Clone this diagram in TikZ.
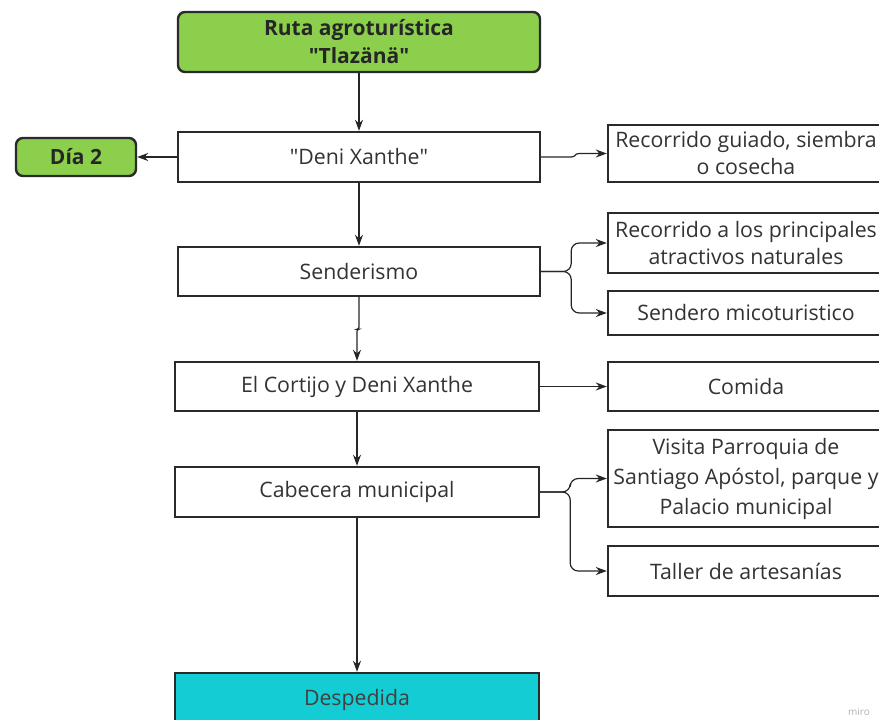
\documentclass[tikz,border=0pt]{standalone}
\usepackage{fontspec}
\setmainfont{Open Sans}
\newfontfamily\qfont{Open Sans}
\usetikzlibrary{arrows.meta}
\definecolor{bordc}{HTML}{2A2A2A}
\definecolor{txtc}{HTML}{333333}
\definecolor{greenc}{HTML}{8CCF4D}
\definecolor{cyanc}{HTML}{14CCD3}
\newcommand{\dq}{{\qfont"}}
\begin{document}
\begin{tikzpicture}[x=1pt,y=-1pt,
  boxbase/.style={draw=bordc,line width=2.4pt,fill=white,inner sep=1pt,align=center,
    text=txtc,font=\fontsize{21.3}{27}\selectfont},
  mainbox/.style={boxbase,minimum width=362pt,minimum height=#1},
  sidebox/.style={boxbase,minimum width=276pt,minimum height=#1},
  greenbox/.style={boxbase,fill=greenc,rounded corners=7pt,text=black!85,font=\fontsize{21}{28}\selectfont\bfseries},
  conn/.style={draw=black!85,line width=1.2pt,-{Stealth[length=11pt,width=8pt]}},
  br/.style={conn,rounded corners=8pt}]
\useasboundingbox (0,0) rectangle (879,720);
\clip (0,0) rectangle (879,720);
% nodes
\node[greenbox,minimum width=362pt,minimum height=60pt] (title) at (359,42) {Ruta agroturística\\\dq Tlazänä\dq};
\node[greenbox,minimum width=120pt,minimum height=38pt] (dia) at (76,157) {Día 2};
\node[mainbox=50pt] (deni) at (359,157) {\dq Deni Xanthe\dq};
\node[sidebox=57pt] (rec1) at (746,153.5) {Recorrido guiado, siembra\\o cosecha};
\node[mainbox=49pt] (sen) at (359,271.5) {Senderismo};
\node[sidebox=60pt] (rec2) at (746,243) {Recorrido a los principales\\atractivos naturales};
\node[sidebox=44pt] (mico) at (746,313) {Sendero micoturistico};
\node[mainbox=49pt,minimum width=364pt] (cor) at (357,386.5) {El Cortijo y Deni Xanthe};
\node[sidebox=49pt] (com) at (746,386.5) {Comida};
\node[mainbox=50pt,minimum width=364pt] (cab) at (357,492) {Cabecera municipal};
\node[sidebox=97pt,font=\fontsize{21.3}{30}\selectfont] (vis) at (746,478.5) {Visita Parroquia de\\Santiago Apóstol, parque y\\Palacio municipal};
\node[sidebox=50pt] (tal) at (746,571) {Taller de artesanías};
\node[mainbox=54pt,minimum width=364pt,fill=cyanc,text=black!75] (des) at (357,700) {Despedida};
\node[text=black!30,font=\fontsize{10}{10}\selectfont] (miro) at (859,712) {miro};
% connectors
\draw[conn] (title.south) -- (deni.north);
\draw[conn] (deni.west) -- (dia.east);
\draw[conn] (deni.east) -- ++(30,0) .. controls +(5,0) and +(-5,0) .. ++(8,-3.5) -- (rec1.west);
\draw[conn] (deni.south) -- (sen.north);
\draw[br] (sen.east) -- ++(30,0) |- (rec2.west);
\draw[br] (sen.east) -- ++(30,0) |- (mico.west);
\draw[conn,rounded corners=2pt] (sen.south) -- ++(0,32) -| (cor.north);
\draw[conn] (cor.east) -- (com.west);
\draw[conn] (cor.south) -- (cab.north);
\draw[br] (cab.east) -- ++(30,0) |- (vis.west);
\draw[br] (cab.east) -- ++(30,0) |- (tal.west);
\draw[conn] (cab.south) -- (des.north);
\end{tikzpicture}
\end{document}
